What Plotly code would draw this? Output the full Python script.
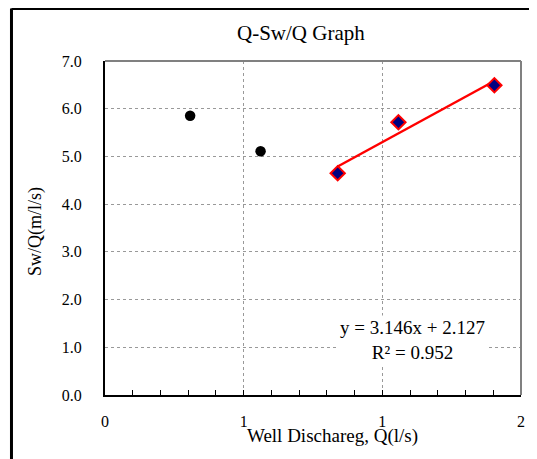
import numpy as np
import plotly.graph_objects as go

# Data
q_all = [0.307, 0.561]            # black points (not used in fit)
swq_all = [5.854, 5.108]
q_fit = [0.839, 1.058, 1.404]     # points used in trend
swq_fit = [4.647, 5.716, 6.491]

x_tickvals = [0, 0.5, 1.0, 1.5]
x_ticktext = ["0", "1", "1", "2"]
y_tickvals = [0, 1, 2, 3, 4, 5, 6, 7]
y_ticktext = ["0.0", "1.0", "2.0", "3.0", "4.0", "5.0", "6.0", "7.0"]

title_text = "Q-Sw/Q Graph"
x_title = "Well Dischareg, Q(l/s)"
y_title = "Sw/Q(m/l/s)"
eq_text = "y = 3.146x + 2.127<br>R² = 0.952"

FONT = "Liberation Serif, Times New Roman, serif"

slope, intercept = np.polyfit(q_fit, swq_fit, 1)
tx = [min(q_fit), max(q_fit)]
ty = [slope * v + intercept for v in tx]

fig = go.Figure()
fig.add_trace(go.Scatter(x=tx, y=ty, mode="lines",
                         line=dict(color="#ff0000", width=2.5), hoverinfo="skip"))
fig.add_trace(go.Scatter(x=q_all, y=swq_all, mode="markers",
                         marker=dict(symbol="circle", size=10.5, color="black")))
fig.add_trace(go.Scatter(x=q_fit, y=swq_fit, mode="markers",
                         marker=dict(symbol="diamond", size=11, color="#000080",
                                     line=dict(color="#ff0000", width=2))))

# page body has an 8px margin, so margins are shifted by -8 px
fig.update_layout(
    width=537, height=459,
    margin=dict(l=97, r=24, t=53, b=72),
    paper_bgcolor="white", plot_bgcolor="white",
    showlegend=False,
    font=dict(family=FONT, color="black", size=16),
)
fig.update_xaxes(
    range=[0, 1.5], tickvals=x_tickvals, ticktext=x_ticktext,
    showgrid=True, gridcolor="#999999", griddash="dot", gridwidth=1,
    showline=True, linecolor="black", linewidth=2,
    ticks="inside", ticklen=5, tickcolor="black",
    minor=dict(dtick=0.1, ticks="inside", ticklen=5, tickcolor="black", showgrid=False),
    ticklabelstandoff=11, zeroline=False,
    tickfont=dict(family=FONT, size=16),
)
fig.update_yaxes(
    range=[0, 7], tickvals=y_tickvals, ticktext=y_ticktext,
    showgrid=True, gridcolor="#999999", griddash="dot", gridwidth=1,
    showline=True, linecolor="black", linewidth=2,
    ticks="", ticklabelstandoff=18, zeroline=False,
    tickfont=dict(family=FONT, size=16),
)

shapes = [
    # gray top/right plot border
    dict(type="line", xref="paper", yref="paper", x0=0, x1=1, y0=1, y1=1,
         line=dict(color="#808080", width=2)),
    dict(type="line", xref="paper", yref="paper", x0=1, x1=1, y0=0, y1=1,
         line=dict(color="#808080", width=2)),
    # outer chart border (left and top visible)
    dict(type="line", xref="paper", yref="paper", x0=-0.2248, x1=-0.2248, y0=-0.4, y1=1.157,
         line=dict(color="black", width=3)),
    dict(type="line", xref="paper", yref="paper", x0=-0.2248, x1=1.2, y0=1.157, y1=1.157,
         line=dict(color="black", width=3)),
]
fig.update_layout(shapes=shapes)

fig.add_annotation(text=title_text, xref="paper", yref="paper", x=0.471, y=1.084,
                   showarrow=False, xanchor="center", yanchor="middle",
                   font=dict(family=FONT, size=21))
fig.add_annotation(text=x_title, xref="paper", yref="paper", x=0.548, y=-0.123,
                   showarrow=False, xanchor="center", yanchor="middle",
                   font=dict(family=FONT, size=19))
fig.add_annotation(text=y_title, xref="paper", yref="paper", x=-0.168, y=0.488,
                   showarrow=False, xanchor="center", yanchor="middle", textangle=-90,
                   font=dict(family=FONT, size=18))
fig.add_annotation(text=eq_text, xref="paper", yref="paper", x=0.738, y=0.166,
                   showarrow=False, xanchor="center", yanchor="middle", align="center",
                   bgcolor="white", font=dict(family=FONT, size=19))

fig.write_html("out.html")
